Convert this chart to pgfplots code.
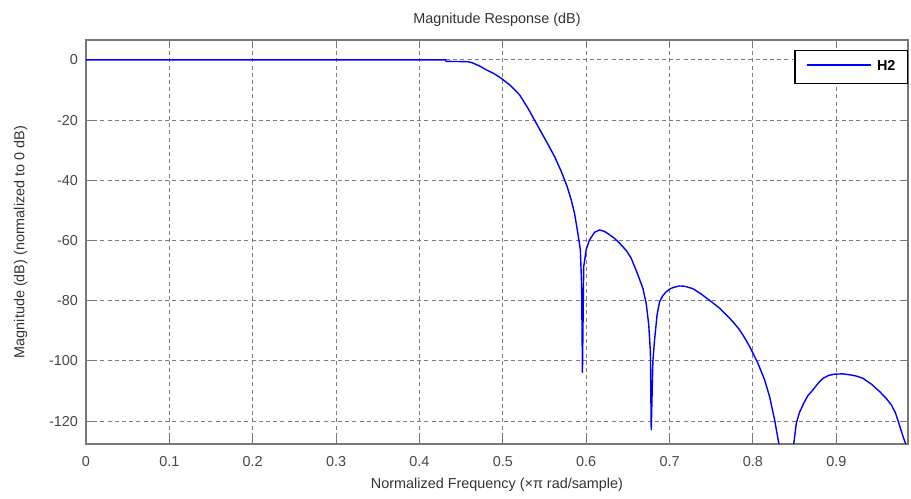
\documentclass[border=0pt]{standalone}
\usepackage{pgfplots}
\pgfplotsset{compat=1.18}
\usepackage{fontspec}
\setmainfont{Liberation Sans}
\definecolor{tickgray}{RGB}{70,70,70}
\definecolor{gridgray}{RGB}{125,125,125}
\definecolor{framegray}{RGB}{120,120,120}
\begin{document}
\begin{tikzpicture}
\begin{axis}[
  scale only axis,
  width=411pt, height=202pt,
  xmin=0, xmax=0.986, ymin=-127.6, ymax=6.6,
  xtick={0,0.1,...,0.9},
  xticklabels={0,0.1,0.2,0.3,0.4,0.5,0.6,0.7,0.8,0.9},
  ytick={-120,-100,-80,-60,-40,-20,0},
  /pgf/number format/assume math mode=true,
  tick label style={font=\fontsize{7.2}{8}\selectfont, text=tickgray},
  xticklabel style={yshift=-2.5pt},
  yticklabel style={xshift=-0.5pt},
  label style={font=\fontsize{7.2}{8}\selectfont, text=black!80},
  title style={font=\fontsize{7.2}{8}\selectfont, text=black!80, yshift=-3pt},
  title={Magnitude Response (dB)},
  xlabel={Normalized Frequency (×π rad/sample)},
  ylabel={Magnitude (dB) (normalized to 0 dB)},
  xlabel style={yshift=1pt},
  ylabel style={yshift=4pt},
  axis line style={framegray, line width=0.6pt},
  tick style={framegray, line width=0.5pt},
  tick align=inside, major tick length=3.5pt,
  xtick pos=both, ytick pos=both,
  grid=major,
  major grid style={gridgray, line width=0.5pt, dash pattern=on 2pt off 1.6pt},
  legend style={at={(1,0.975)}, anchor=north east, line width=0.6pt,
    font=\fontsize{7.2}{8}\selectfont\bfseries, inner xsep=4pt, inner ysep=3pt,
    legend cell align=left},
  legend image code/.code={},
]
\addplot[blue, line width=0.7pt] coordinates {
(0,0)(0.431,0)(0.432,-0.5)(0.458,-0.6)(0.4625,-0.9)(0.472,-2.0)(0.480,-3.3)(0.489,-4.5)(0.498,-6.1)(0.509,-8.5)(0.520,-11.6)(0.530,-16)(0.538,-20)(0.546,-24)(0.554,-28)(0.562,-32.1)(0.570,-37)(0.577,-42)(0.582,-46.5)(0.586,-51)(0.590,-57.6)(0.593,-63.1)(0.5945,-75)(0.5955,-104)(0.5965,-80)(0.597,-68.7)(0.600,-63)(0.604,-59.8)(0.610,-57.3)(0.616,-56.5)(0.622,-57)(0.628,-58.1)(0.634,-59.3)(0.640,-60.9)(0.648,-63.3)(0.654,-65.9)(0.662,-71.4)(0.668,-75.9)(0.672,-81)(0.675,-88)(0.677,-97)(0.678,-123)(0.680,-100)(0.682,-93)(0.685,-84.7)(0.688,-80.3)(0.692,-78.3)(0.696,-77)(0.701,-76)(0.706,-75.5)(0.712,-75.1)(0.718,-75.2)(0.728,-76)(0.738,-77.8)(0.750,-80.3)(0.760,-82.5)(0.768,-84.7)(0.776,-87)(0.784,-89.7)(0.790,-92.3)(0.796,-95.2)(0.806,-100.8)(0.814,-106.3)(0.820,-111.9)(0.826,-119.6)(0.831,-127.4)(0.836,-140)(0.845,-140)(0.849,-127.4)(0.852,-120.7)(0.856,-117)(0.861,-114)(0.866,-111.5)(0.872,-109.6)(0.878,-107.5)(0.884,-105.8)(0.891,-104.8)(0.898,-104.4)(0.908,-104.3)(0.918,-104.7)(0.925,-105.1)(0.932,-105.8)(0.942,-107.7)(0.952,-110.2)(0.960,-112.5)(0.966,-114.6)(0.971,-117.3)(0.975,-120.7)(0.980,-125.1)(0.983,-127.4)(0.988,-140)
};
\addlegendentry{\textcolor{blue}{\rule[2.6pt]{32pt}{0.7pt}}\hspace{3pt}H2}
\end{axis}
\path[use as bounding box] ([xshift=-43pt,yshift=-25.5pt]current axis.south west) rectangle ([xshift=1.5pt,yshift=20pt]current axis.north east);
\end{tikzpicture}
\end{document}
